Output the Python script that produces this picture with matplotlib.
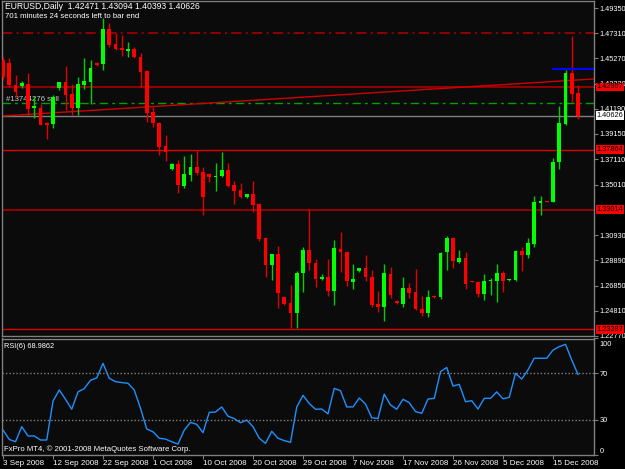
import matplotlib
matplotlib.use('Agg')
import matplotlib.pyplot as plt
import matplotlib.transforms as mtransforms
import numpy as np

plt.rcParams['font.family'] = ['Liberation Sans', 'DejaVu Sans']

# daily EURUSD bars, 3 Sep 2008 .. 19 Dec 2008 (broker has Sunday bars)
opens = [1.4514, 1.4490, 1.4312, 1.4303, 1.4320, 1.4125, 1.4125, 1.4004, 1.3996, 1.4287,
         1.4336, 1.4239, 1.4125, 1.4312, 1.4336, 1.4490, 1.4482, 1.4765, 1.4644, 1.4611,
         1.4587, 1.4603, 1.4538, 1.4425, 1.4093, 1.4004, 1.3817, 1.3631, 1.3672, 1.3493,
         1.3583, 1.3647, 1.3607, 1.3591, 1.3566, 1.3574, 1.3623, 1.3502, 1.3461, 1.3404,
         1.3429, 1.3348, 1.3072, 1.2854, 1.2943, 1.2594, 1.2546, 1.2465, 1.2789, 1.2975,
         1.2870, 1.2740, 1.2756, 1.2643, 1.2983, 1.2959, 1.2716, 1.2805, 1.2829, 1.2756,
         1.2538, 1.2513, 1.2781, 1.2562, 1.2538, 1.2667, 1.2635, 1.2497, 1.2465, 1.2602,
         1.2594, 1.2959, 1.3072, 1.2878, 1.2910, 1.2724, 1.2716, 1.2619, 1.2724, 1.2724,
         1.2789, 1.2732, 1.2732, 1.2967, 1.2935, 1.3024, 1.3356, 1.3372, 1.3364, 1.3688,
         1.3996, 1.4409, 1.42471]
highs = [1.4538, 1.4530, 1.4393, 1.4344, 1.4409, 1.4222, 1.4158, 1.4012, 1.4231, 1.4336,
         1.4465, 1.4320, 1.4376, 1.4530, 1.4514, 1.4498, 1.4854, 1.4814, 1.4733, 1.4717,
         1.4660, 1.4619, 1.4571, 1.4433, 1.4133, 1.4012, 1.3907, 1.3680, 1.3704, 1.3736,
         1.3753, 1.3785, 1.3647, 1.3599, 1.3680, 1.3769, 1.3680, 1.3534, 1.3518, 1.3421,
         1.3534, 1.3356, 1.3080, 1.2943, 1.3007, 1.2602, 1.2692, 1.2805, 1.2999, 1.3307,
         1.2902, 1.2781, 1.2902, 1.3056, 1.3121, 1.2967, 1.2862, 1.2829, 1.2935, 1.2813,
         1.2643, 1.2862, 1.2837, 1.2570, 1.2756, 1.2708, 1.2821, 1.2602, 1.2651, 1.2611,
         1.2959, 1.3088, 1.3080, 1.2975, 1.2959, 1.2724, 1.2724, 1.2781, 1.2748, 1.2862,
         1.2805, 1.2740, 1.2975, 1.2999, 1.3072, 1.3412, 1.3412, 1.3372, 1.3720, 1.4141,
         1.4433, 1.4708, 1.43094]
lows = [1.4352, 1.4295, 1.4214, 1.4287, 1.4069, 1.4044, 1.3988, 1.3874, 1.3963, 1.4271,
        1.4109, 1.4069, 1.4069, 1.4279, 1.4158, 1.4465, 1.4433, 1.4619, 1.4595, 1.4546,
        1.4538, 1.4530, 1.4295, 1.4012, 1.3971, 1.3745, 1.3696, 1.3623, 1.3437, 1.3477,
        1.3534, 1.3583, 1.3259, 1.3526, 1.3453, 1.3566, 1.3485, 1.3348, 1.3396, 1.3396,
        1.3283, 1.3048, 1.2756, 1.2732, 1.2505, 1.2530, 1.2343, 1.2343, 1.2635, 1.2813,
        1.2675, 1.2732, 1.2602, 1.2530, 1.2797, 1.2683, 1.2659, 1.2797, 1.2724, 1.2513,
        1.2473, 1.2400, 1.2586, 1.2538, 1.2513, 1.2586, 1.2489, 1.2440, 1.2432, 1.2586,
        1.2578, 1.2813, 1.2829, 1.2870, 1.2659, 1.2716, 1.2594, 1.2570, 1.2611, 1.2554,
        1.2635, 1.2724, 1.2724, 1.2805, 1.2910, 1.2999, 1.3259, 1.3364, 1.3364, 1.3631,
        1.3988, 1.4174, 1.40393]
closes = [1.4376, 1.4312, 1.4255, 1.4328, 1.4117, 1.4141, 1.3988, 1.3988, 1.4214, 1.4336,
          1.4231, 1.4125, 1.4320, 1.4344, 1.4449, 1.4474, 1.4765, 1.4636, 1.4603, 1.4595,
          1.4603, 1.4538, 1.4417, 1.4085, 1.4004, 1.3809, 1.3769, 1.3672, 1.3502, 1.3591,
          1.3647, 1.3599, 1.3404, 1.3566, 1.3574, 1.3623, 1.3493, 1.3453, 1.3404, 1.3429,
          1.3340, 1.3064, 1.2854, 1.2943, 1.2627, 1.2538, 1.2465, 1.2789, 1.2975, 1.2870,
          1.2740, 1.2756, 1.2643, 1.2991, 1.2959, 1.2724, 1.2740, 1.2829, 1.2756, 1.2530,
          1.2513, 1.2789, 1.2611, 1.2546, 1.2667, 1.2627, 1.2497, 1.2465, 1.2594, 1.2594,
          1.2951, 1.3072, 1.2886, 1.2910, 1.2700, 1.2716, 1.2619, 1.2724, 1.2732, 1.2789,
          1.2724, 1.2740, 1.2967, 1.2935, 1.3032, 1.3364, 1.3372, 1.3364, 1.3688, 1.4004,
          1.4409, 1.4239, 1.40626]

rsi = [21.1, 13, 11, 24, 16, 16, 12.5, 12.5, 46, 55.6,
       47.6, 39, 54, 56.8, 64, 66, 78.6, 65.7, 62.8, 62,
       61.4, 55.6, 39.8, 22, 19.6, 14, 13.3, 11, 9, 21,
       27.7, 26, 18.8, 36.3, 36.6, 41, 33, 31, 27.4, 29.7,
       24, 14, 9.6, 20, 14, 12, 10.4, 41, 51, 44,
       39, 39.2, 35, 57, 55, 41, 41, 48.7, 43.5, 31.7,
       31, 52, 42.7, 39, 47.6, 44.7, 37, 35.5, 47.8, 48.4,
       71.4, 75, 59, 60.5, 45.5, 46.4, 39.2, 48.4, 48.4, 54,
       48, 49.3, 70, 65, 73, 83, 83, 83, 90, 93,
       95, 81.5, 68.9862]

date_idx = [0, 8, 16, 24, 32, 40, 48, 56, 64, 72, 80, 88]
date_labels = ['3 Sep 2008', '12 Sep 2008', '22 Sep 2008', '1 Oct 2008', '10 Oct 2008',
               '20 Oct 2008', '29 Oct 2008', '7 Nov 2008', '17 Nov 2008', '26 Nov 2008',
               '5 Dec 2008', '15 Dec 2008']
price_ticks = [1.49350, 1.47310, 1.45270, 1.43230, 1.41190, 1.39150, 1.37110, 1.35010,
               1.30930, 1.28890, 1.26850, 1.24810, 1.22770]

# lines drawn on the chart
level_prices = [1.42957, 1.37864, 1.33014, 1.23287]
level_colors = ['#8b0000', '#e00000', '#8b0000', '#e00000']
level_widths = [1.5, 1.0, 1.5, 1.0]
bid = 1.40626
res_dashdot = 1.4731
order_price = 1.4166
trend_a = (0, 1.4060)
trend_b = (92, 1.4352)
blue_price = 1.4441
blue_from = 87.8

bg = '#0b0b0b'
fs = 5.6      # general text
fs_px = 5.3   # price scale
W, H = 625, 469
fig = plt.figure(figsize=(6.25, 4.69), dpi=100, facecolor='black')
ax = fig.add_axes([2 / W, 1 - 336 / H, 592 / W, 335 / H], facecolor=bg)
ax2 = fig.add_axes([2 / W, 1 - 454.5 / H, 592 / W, 116 / H], facecolor=bg)

o = np.array(opens); h = np.array(highs); l = np.array(lows); c = np.array(closes)
idx = np.arange(len(o))
up = c >= o
body_col = np.where(up, '#00ff00', '#ff0000')
wick_col = np.where(up, '#00d000', '#e00000')

ax.vlines(idx, l, h, colors=wick_col, lw=1, zorder=3)
ax.bar(idx, np.maximum(np.abs(c - o), 0.0007), bottom=np.minimum(o, c), width=0.62,
       color=body_col, linewidth=0, zorder=4)

ax.axhline(res_dashdot, color='#8b0000', lw=1.5, ls=(0, (5, 2, 1, 2)), zorder=2)
ax.axhline(order_price, color='#00a000', lw=1, ls=(0, (6, 3, 2, 3)), zorder=2)
ax.axhline(bid, color='#808080', lw=1, zorder=2)
for p, col, w in zip(level_prices, level_colors, level_widths):
    ax.axhline(p, color=col, lw=w, zorder=2)
ax.axline(trend_a, trend_b, color='#d00000', lw=1, zorder=2)
ax.hlines(blue_price, blue_from, 100, color='#0000ff', lw=1.6, zorder=5)

ax.text(0.4, order_price + 0.0003, '#13744276 sell', color='#c8c8c8', fontsize=fs,
        va='bottom', ha='left', zorder=1)

ax.set_xlim(-0.16, 94.56)
ax.set_ylim(1.2276, 1.4992)
ax.set_xticks([])
ax.yaxis.tick_right()
ax.set_yticks(price_ticks)
ax.set_yticklabels(['%.5f' % t for t in price_ticks])
ax.tick_params(axis='y', colors='#808080', labelcolor='white', labelsize=fs_px, length=3, pad=1)

tr = mtransforms.blended_transform_factory(ax.transAxes, ax.transData)
for p in level_prices:
    ax.text(1.0045, p, '%.5f' % p, transform=tr, color='black', fontsize=fs_px, va='center',
            ha='left', zorder=10, clip_on=False,
            bbox=dict(boxstyle='square,pad=0.12', fc='#ff0000', ec='none'))
ax.text(1.0045, bid, '%.5f' % bid, transform=tr, color='black', fontsize=fs_px, va='center',
        ha='left', zorder=10, clip_on=False,
        bbox=dict(boxstyle='square,pad=0.12', fc='white', ec='none'))

ax.text(0.005, 0.984, 'EURUSD,Daily  %.5f %.5f %.5f %.5f' % (opens[-1], highs[-1], lows[-1], closes[-1]),
        transform=ax.transAxes, color='white', fontsize=6.2, va='center', ha='left', zorder=11)
ax.text(0.005, 0.955, '701 minutes 24 seconds left to bar end', transform=ax.transAxes,
        color='white', fontsize=5.6, va='center', ha='left', zorder=11)

# RSI panel
ax2.plot(idx, rsi, color='#1e90ff', lw=1)
ax2.axhline(70, color='#808080', lw=1, ls=(0, (1, 1.5)))
ax2.axhline(30, color='#808080', lw=1, ls=(0, (1, 1.5)))
ax2.set_xlim(-0.16, 94.56)
ax2.set_ylim(0, 100)
ax2.yaxis.tick_right()
ax2.set_yticks([100, 70, 30, 0])
ax2.set_yticklabels(['100', '70', '30', '0'])
ax2.tick_params(axis='y', colors='#808080', labelcolor='white', labelsize=fs_px, length=3, pad=1)
ylabs = ax2.get_yticklabels()
ylabs[0].set_va('top')
ylabs[0].set_transform(ylabs[0].get_transform() +
                       mtransforms.ScaledTranslation(0, -2 / 72, fig.dpi_scale_trans))
ylabs[-1].set_va('bottom')
ax2.set_xticks(date_idx)
ax2.set_xticklabels(date_labels)
ax2.tick_params(axis='x', colors='#808080', labelcolor='white', labelsize=5.8, length=3, pad=1)
for t in ax2.get_xticklabels():
    t.set_ha('left')
ax2.text(0.004, 0.935, 'RSI(6) %.4f' % rsi[-1], transform=ax2.transAxes, color='white',
         fontsize=5.3, va='center', ha='left')
ax2.text(0.004, 0.05, 'FxPro MT4, \u00a9 2001-2008 MetaQuotes Software Corp.', transform=ax2.transAxes,
         color='white', fontsize=5.6, va='center', ha='left')

for a in (ax, ax2):
    for s in a.spines.values():
        s.set_color('#808080')
        s.set_linewidth(1)

fig.savefig('out.png', dpi=100, facecolor='black')
